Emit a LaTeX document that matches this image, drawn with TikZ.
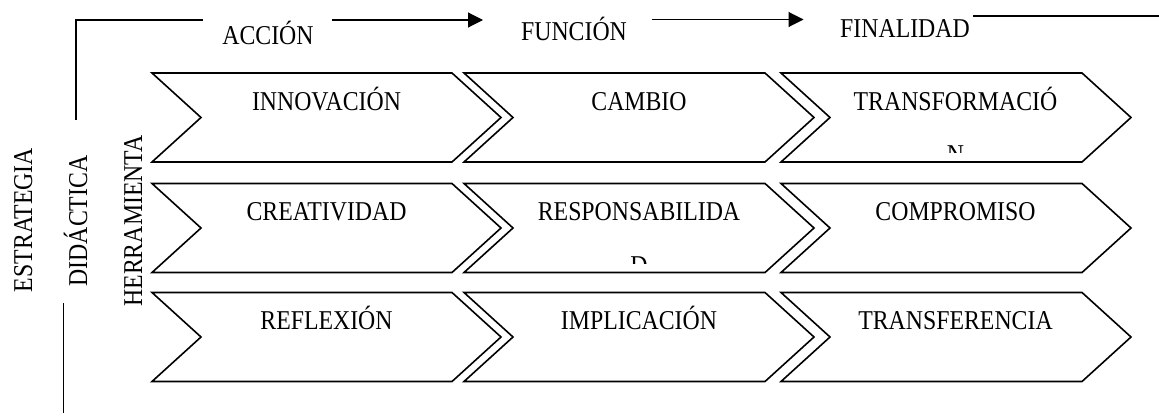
\documentclass[tikz,border=0pt]{standalone}
\usepackage{fontspec}
\setmainfont{Liberation Serif}[FakeStretch=0.875]
\usetikzlibrary{arrows.meta}

\begin{document}
\begin{tikzpicture}[x=1pt, y=-1pt,
            chev/.style={draw, line width=1.6pt, line join=miter},
            lbl/.style={font=\fontsize{27.2}{32}\selectfont, inner sep=0pt, anchor=base},
            arrow/.style={-{Triangle[length=15pt, width=15pt]}, line width=1.1pt},
            rule/.style={line width=1.1pt}]

            \useasboundingbox (0,0) rectangle (1159,415);

            \draw[rule] (203,20) -- (76,20) -- (76,120);
            \draw[rule] (63.5,303) -- (63.5,413);
            \draw[rule] (973,16) -- (1159,16);

            \node[lbl] (accion) at (268,44) {ACCIÓN};
            \node[lbl] (funcion) at (574,40) {FUNCIÓN};
            \node[lbl] (finalidad) at (905,37) {FINALIDAD};

            \coordinate (arr1a) at (332,20);
            \coordinate (arr1b) at (483,20);
            \coordinate (arr2a) at (652,19.5);
            \coordinate (arr2b) at (803.5,19.5);
            \draw[arrow] (arr1a) -- (arr1b);
            \draw[arrow] (arr2a) -- (arr2b);

            \node[lbl, rotate=90] (estrategia) at (32,220) {ESTRATEGIA};
            \node[lbl, rotate=90] (didactica) at (87,221) {DIDÁCTICA};
            \node[lbl, rotate=90] (herramienta) at (142,221) {HERRAMIENTA};

            \draw[chev] (152,73) -- ++(300,0) -- ++(49,44.5) -- ++(-49,44.5) -- ++(-300,0) -- ++(49,-44.5) -- cycle;
            \draw[chev] (464,73) -- ++(301,0) -- ++(49,44.5) -- ++(-49,44.5) -- ++(-301,0) -- ++(49,-44.5) -- cycle;
            \draw[chev] (781,73) -- ++(301,0) -- ++(49,44.5) -- ++(-49,44.5) -- ++(-301,0) -- ++(49,-44.5) -- cycle;

            \draw[chev] (152,183.5) -- ++(300,0) -- ++(49,44.5) -- ++(-49,44.5) -- ++(-300,0) -- ++(49,-44.5) -- cycle;
            \draw[chev] (464,183.5) -- ++(301,0) -- ++(49,44.5) -- ++(-49,44.5) -- ++(-301,0) -- ++(49,-44.5) -- cycle;
            \draw[chev] (781,183.5) -- ++(301,0) -- ++(49,44.5) -- ++(-49,44.5) -- ++(-301,0) -- ++(49,-44.5) -- cycle;

            \draw[chev] (152,292.5) -- ++(300,0) -- ++(49,44.5) -- ++(-49,44.5) -- ++(-300,0) -- ++(49,-44.5) -- cycle;
            \draw[chev] (464,292.5) -- ++(301,0) -- ++(49,44.5) -- ++(-49,44.5) -- ++(-301,0) -- ++(49,-44.5) -- cycle;
            \draw[chev] (781,292.5) -- ++(301,0) -- ++(49,44.5) -- ++(-49,44.5) -- ++(-301,0) -- ++(49,-44.5) -- cycle;

            \node[lbl] (innovacion) at (326.5,110) {INNOVACIÓN};
            \node[lbl] (cambio) at (639,110) {CAMBIO};
            \node[lbl] (transformacion) at (955.5,110) {TRANSFORMACIÓ};
            \node[lbl] (creatividad) at (326.5,220.5) {CREATIVIDAD};
            \node[lbl] (responsabilidad) at (639,220.5) {RESPONSABILIDA};
            \node[lbl] (compromiso) at (955.5,220.5) {COMPROMISO};
            \node[lbl] (reflexion) at (326.5,329.5) {REFLEXIÓN};
            \node[lbl] (implicacion) at (639,329.5) {IMPLICACIÓN};
            \node[lbl] (transferencia) at (955.5,329.5) {TRANSFERENCIA};

            \begin{scope}
                \clip (781,73) rectangle (1130,152);
                \node[lbl] (transformacionN) at (955.5,163) {N};
            \end{scope}
            \begin{scope}
                \clip (464,183.5) rectangle (814,263);
                \node[lbl] (responsabilidadD) at (639,274) {D};
            \end{scope}
        \end{tikzpicture}
\end{document}
